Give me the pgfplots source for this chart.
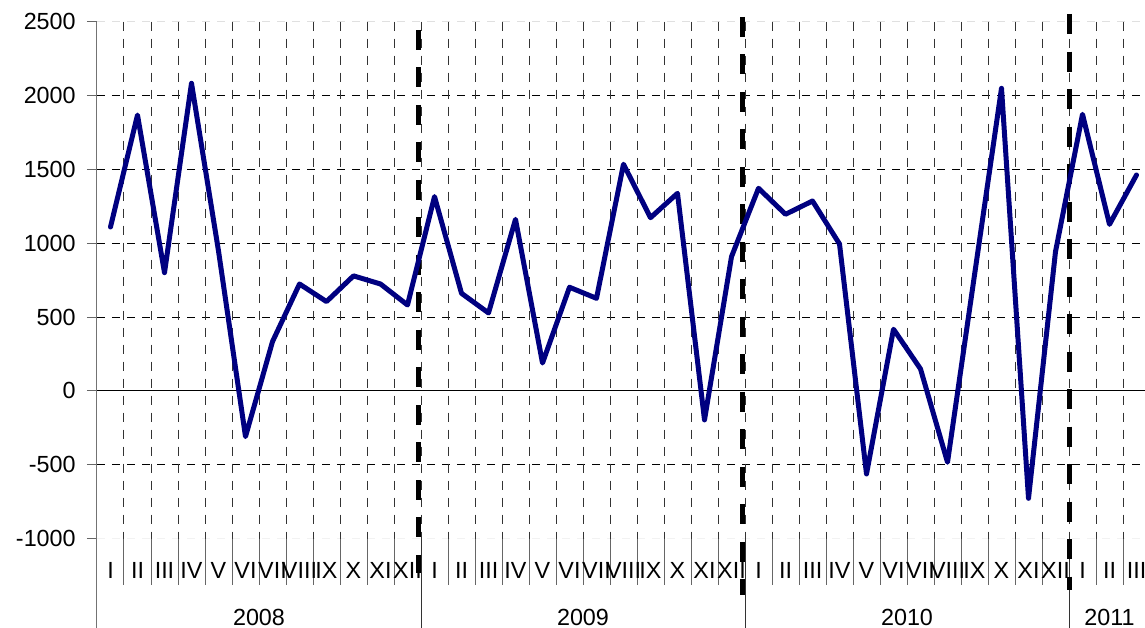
\documentclass[border=0pt]{standalone}
\usepackage{fontspec}
\setmainfont{Liberation Sans}
\usepackage{pgfplots}
\pgfplotsset{compat=1.18}
\definecolor{navy}{RGB}{0,0,128}
\begin{document}
\begin{tikzpicture}
\useasboundingbox (-58.2pt,0pt) rectangle (628.8pt,376.8pt);
\begin{axis}[
  at={(0pt,0pt)}, anchor=south west,
  x=16.2pt, y=0.088626pt,
  xmin=0, xmax=39, ymin=-1605, ymax=2500,
  axis x line=none,
  axis y line*=left,
  y axis line style={draw=black!55, line width=0.6pt, -},
  ytick={-1000,-500,0,500,1000,1500,2000,2500},
  yticklabels={-1000,-500,0,500,1000,1500,2000,2500},
  tick align=outside,
  major tick length=6pt,
  tick style={draw=black!60, line width=0.6pt},
  yticklabel style={font=\fontsize{14}{16}\selectfont, inner sep=0pt, xshift=-6.6pt},
  xtick=\empty,
  clip=false,
  font=\fontsize{14}{16}\selectfont,
]
% horizontal grid
\draw[black!12, line width=0.5pt, dash pattern=on 4.8pt off 4.2pt] (axis cs:0,2500) -- (axis cs:39,2500);
\foreach \yy in {500,1000,1500,2000,-500}{
  \edef\tmp{\noexpand\draw[black, line width=0.6pt, dash pattern=on 4.8pt off 4.2pt] (axis cs:0,\yy) -- (axis cs:39,\yy);}\tmp
}
\draw[black!5, line width=0.5pt, dash pattern=on 4.8pt off 4.2pt] (axis cs:0,-1000) -- (axis cs:39,-1000);
\draw[black, line width=0.6pt] (axis cs:0,0) -- (axis cs:39,0);
% vertical grid
\pgfplotsinvokeforeach{1,...,38}{
  \draw[black!80, line width=0.6pt, dash pattern=on 5.4pt off 4.8pt] (axis cs:#1,2500) -- (axis cs:#1,-1000);
  \draw[black!60, line width=0.6pt] (axis cs:#1,-1000) -- (axis cs:#1,-1314);
}
\pgfplotsinvokeforeach{12,24,36}{
  \draw[black!80, line width=0.6pt] (axis cs:#1,-1000) -- (axis cs:#1,-1605);
}
% month labels
\foreach \xx/\ll in {0.5/I,1.5/II,2.5/III,3.5/IV,4.5/V,5.5/VI,6.5/VII,7.5/VIII,8.5/IX,9.5/X,10.5/XI,11.5/XII,
  12.5/I,13.5/II,14.5/III,15.5/IV,16.5/V,17.5/VI,18.5/VII,19.5/VIII,20.5/IX,21.5/X,22.5/XI,23.5/XII,
  24.5/I,25.5/II,26.5/III,27.5/IV,28.5/V,29.5/VI,30.5/VII,31.5/VIII,32.5/IX,33.5/X,34.5/XI,35.5/XII,
  36.5/I,37.5/II,38.5/III}{
  \edef\tmp{\noexpand\node[anchor=base, inner sep=0pt] at (axis cs:\xx,-1268) {\ll};}\tmp
}
\foreach \xx/\ll in {6/2008,18/2009,30/2010,37.5/2011}{
  \edef\tmp{\noexpand\node[anchor=base, inner sep=0pt] at (axis cs:\xx,-1585) {\ll};}\tmp
}
% thick dashed separators
\addplot[black, line width=3pt, dash pattern=on 12pt off 10.5pt, forget plot] coordinates {(11.9,2444) (11.9,-1232)};
\addplot[black, line width=3pt, dash pattern=on 12pt off 10.5pt, forget plot] coordinates {(23.9,2532) (23.9,-1381)};
\addplot[black, line width=3pt, dash pattern=on 12pt off 10.5pt, forget plot] coordinates {(36.02,2552) (36.02,-1347)};
% data
\addplot[navy, line width=3pt, line join=round, line cap=round, mark=none] coordinates {
(0.5,1110) (1.5,1868) (2.5,801) (3.5,2083) (4.5,948) (5.5,-309) (6.5,334) (7.5,724) (8.5,605) (9.5,779) (10.5,724) (11.5,582)
(12.5,1316) (13.5,661) (14.5,528) (15.5,1162) (16.5,189) (17.5,702) (18.5,627) (19.5,1535) (20.5,1173) (21.5,1338) (22.5,-196) (23.5,909)
(24.5,1372) (25.5,1196) (26.5,1286) (27.5,995) (28.5,-562) (29.5,418) (30.5,149) (31.5,-483) (32.5,785) (33.5,2049) (34.5,-727) (35.5,943)
(36.5,1873) (37.5,1128) (38.5,1462)
};
\end{axis}
\end{tikzpicture}
\end{document}
